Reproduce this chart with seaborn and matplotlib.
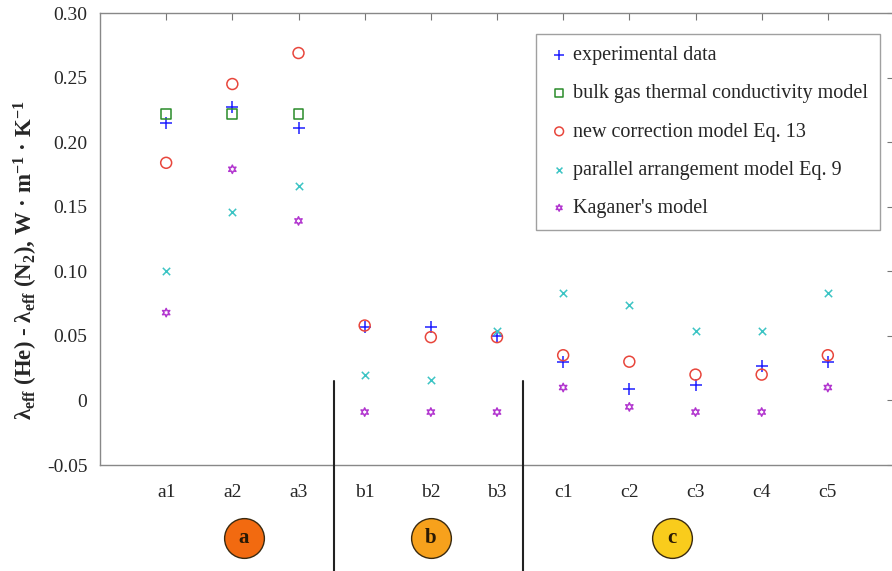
import matplotlib
matplotlib.use("Agg")
import matplotlib.pyplot as plt
import numpy as np
import pandas as pd
import seaborn as sns

# samples and groups
samples = ["a1", "a2", "a3", "b1", "b2", "b3", "c1", "c2", "c3", "c4", "c5"]
groups = ["a", "b", "c"]
group_colors = ["#f26a10", "#f7a11c", "#f9cc1c"]

# values (W m^-1 K^-1)
experimental = [0.215, 0.227, 0.211, 0.057, 0.057, 0.050, 0.030, 0.009, 0.012, 0.027, 0.030]
bulk_gas = [0.222, 0.222, 0.222]
new_correction = [0.184, 0.245, 0.269, 0.058, 0.049, 0.049, 0.035, 0.030, 0.020, 0.020, 0.035]
parallel = [0.100, 0.146, 0.166, 0.020, 0.016, 0.054, 0.083, 0.074, 0.054, 0.054, 0.083]
kaganer = [0.068, 0.179, 0.139, -0.009, -0.009, -0.009, 0.010, -0.005, -0.009, -0.009, 0.010]

sns.set_theme(style="white")
plt.rcParams["font.family"] = ["Liberation Serif", "DejaVu Serif"]
plt.rcParams["mathtext.fontset"] = "custom"
plt.rcParams["mathtext.rm"] = "Liberation Serif"
plt.rcParams["mathtext.bf"] = "Liberation Serif:bold"
plt.rcParams["mathtext.it"] = "Liberation Serif:italic"

fig = plt.figure(figsize=(8.92, 5.71), dpi=100)
ax = fig.add_axes([100 / 892, 1 - 465 / 571, 794 / 892, 452 / 571])

xpos = np.arange(1, len(samples) + 1)

series = [
    ("experimental data", experimental, "+", "#1f1fff", 80, True),
    ("bulk gas thermal conductivity model", bulk_gas, "s", "#2a8c2a", 50, False),
    ("new correction model Eq. 13", new_correction, "o", "#e8463c", 62, False),
    ("parallel arrangement model Eq. 9", parallel, "x", "#3cc4c4", 28, True),
    ("Kaganer's model", kaganer, (6, 1, 0), "#b236cf", 36, False),
]

for name, vals, mk, col, size, line_art in series:
    df = pd.DataFrame({"x": xpos[:len(vals)], "y": vals})
    if line_art:
        sns.scatterplot(data=df, x="x", y="y", marker=mk, color=col, s=size,
                        linewidth=1.1, label=name, ax=ax, zorder=3)
    else:
        sns.scatterplot(data=df, x="x", y="y", marker=mk, s=size,
                        facecolors="none", edgecolors=col, linewidth=1.1,
                        label=name, ax=ax, zorder=3)

ax.set_xlim(0, 12)
ax.set_ylim(-0.05, 0.30)
ax.set_xticks(xpos)
ax.set_xticklabels(samples)
yt = [-0.05, 0, 0.05, 0.10, 0.15, 0.20, 0.25, 0.30]
ax.set_yticks(yt)
ax.set_yticklabels(["-0.05", "0", "0.05", "0.10", "0.15", "0.20", "0.25", "0.30"])
ax.set_xlabel("")
ax.set_ylabel(r"λ$_{\mathbf{eff}}$ (He) - λ$_{\mathbf{eff}}$ (N$_{\mathbf{2}}$), W · m$^{\mathbf{-1}}$ · K$^{\mathbf{-1}}$",
              fontsize=16.5, fontweight="bold")
ax.yaxis.set_label_coords(-0.075, 0.453)

ax.tick_params(direction="in", length=5, width=0.8, color="#777777",
               top=True, right=True, labelsize=14)
ax.tick_params(axis="y", pad=9)
ax.tick_params(axis="x", pad=14)
for sp in ax.spines.values():
    sp.set_color("#888888")
    sp.set_linewidth(1.0)

# group separators extending below the axes
for xs in [3.54, 6.39]:
    ax.plot([xs, xs], [0.015, -0.133], color="#222222", lw=1.5, clip_on=False, zorder=4)

# group badges below the tick labels
badge_x = [2.17, 5.0, 8.64]
for gx, g, gc in zip(badge_x, groups, group_colors):
    ax.scatter([gx], [-0.1065], s=820, marker="o", facecolor=gc, edgecolor="#3a2a10",
               linewidth=1.0, clip_on=False, zorder=4)
    ax.text(gx, -0.1065, g, ha="center", va="center", fontsize=15, fontweight="bold",
            color="#2a1a05", zorder=5, clip_on=False)

leg = ax.legend(loc="upper left", bbox_to_anchor=(536 / 892, 1 - 34 / 571),
                bbox_transform=fig.transFigure, borderaxespad=0, fontsize=14.5,
                labelspacing=0.95, handletextpad=0.15, handlelength=1.1,
                frameon=True, fancybox=False, borderpad=0.6, markerscale=0.8)
leg.get_frame().set_edgecolor("#888888")
leg.get_frame().set_linewidth(1.0)

fig.savefig("out.png", dpi=100)
